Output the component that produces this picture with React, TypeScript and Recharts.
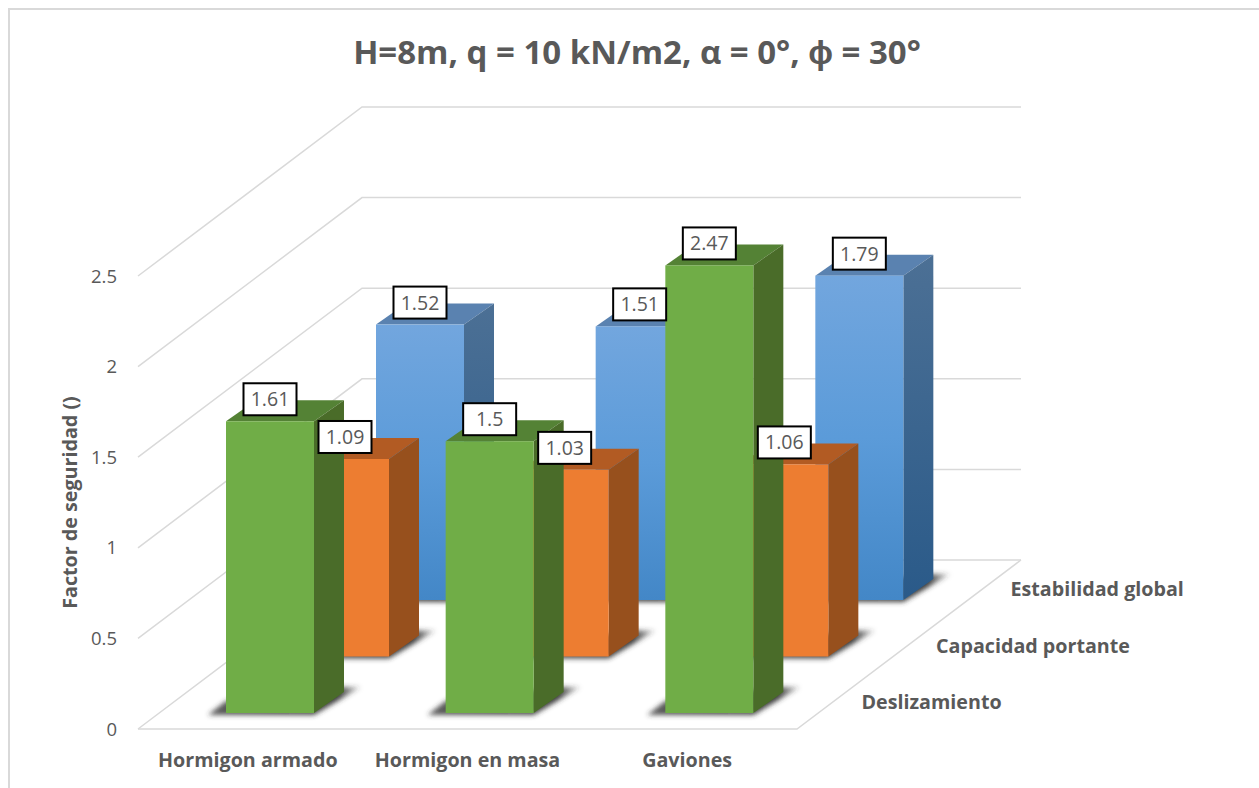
import React from "react";
import { BarChart, Bar, XAxis, YAxis, CartesianGrid, LabelList } from "recharts";

const categories = ["Hormigon armado", "Hormigon en masa", "Gaviones"];
const deslizamiento = [1.61, 1.5, 2.47];
const capacidadPortante = [1.09, 1.03, 1.06];
const estabilidadGlobal = [1.52, 1.51, 1.79];
const yTicks = [0, 0.5, 1, 1.5, 2, 2.5];
const depthLabels = ["Deslizamiento", "Capacidad portante", "Estabilidad global"];

const data = categories.map((name, i) => ({
  name,
  deslizamiento: deslizamiento[i],
  capacidadPortante: capacidadPortante[i],
  estabilidadGlobal: estabilidadGlobal[i],
}));

const W = 1259;
const H = 788;
const BAR = 88;
const DX = 30; // bar depth
const DY = 21;
const FLOOR_DX = 224;
const FLOOR_DY = 169;
const GREY = "#595959";
const GRID = "#d9d9d9";
const FONT = "'Open Sans', sans-serif";

// how far each row sits back on the floor
const rowX = (row: number) => 22 + row * 75;
const rowY = (row: number) => 16 + row * 56.5;

const faces = [
  { front: "#70ad47", top: "#548235", side: "#4a6c29" },
  { front: "#ed7d31", top: "#b25b23", side: "#97501d" },
  { front: "url(#blueFront)", top: "#5a82b0", side: "url(#blueSide)" },
];

function pts(list: number[][]) {
  return list.map((p) => p.join(",")).join(" ");
}

function Bar3D(row: number) {
  return (props: any) => {
    const { x, y, width, height } = props;
    const f = faces[row];
    const l = x + rowX(row);
    const t = y - rowY(row);
    const r = l + width;
    const b = t + height;
    return (
      <g>
        <polygon
          points={pts([[l - 18, b + 2], [r, b + 2], [r + 47, b - 26], [r + 26, b - 26], [l, b - 12]])}
          fill="url(#floorShadow)"
          filter="url(#blur)"
        />
        <polygon points={pts([[l, t], [r, t], [r + DX, t - DY], [l + DX, t - DY]])} fill={f.top} />
        <polygon points={pts([[r, t], [r + DX, t - DY], [r + DX, b - DY], [r, b]])} fill={f.side} />
        <rect x={l} y={t} width={width} height={height} fill={f.front} />
      </g>
    );
  };
}

function ValueBox(row: number) {
  return (props: any) => {
    const { x, y, width, value } = props;
    const cx = x + rowX(row) + width / 2;
    const cy = y - rowY(row) - 22;
    return (
      <g>
        <rect x={cx - 26.5} y={cy - 16} width={53} height={32} fill="#fff" stroke="#000" strokeWidth={2} />
        <text x={cx} y={cy + 7} textAnchor="middle" fontSize={19.5} fill={GREY} fontFamily={FONT}>
          {value}
        </text>
      </g>
    );
  };
}

// walls and floor hang off the gridlines so they follow the value scale
function wallLine(props: any) {
  const { x1, x2, y1, index } = props;
  const back = y1 - FLOOR_DY;
  const isFloor = Math.abs(y1 - 729) < 1;
  return (
    <g key={index}>
      <polyline
        points={pts([[x1, y1], [x1 + FLOOR_DX, back], [x2 + FLOOR_DX, back]])}
        fill="none"
        stroke={GRID}
        strokeWidth={1.5}
      />
      {isFloor && (
        <polyline
          points={pts([[x1, y1], [x2, y1], [x2 + FLOOR_DX, back]])}
          fill="none"
          stroke={GRID}
          strokeWidth={1.5}
        />
      )}
    </g>
  );
}

export default function App() {
  return (
    <div style={{ position: "absolute", left: 0, top: 0, width: W, height: H, overflow: "hidden", background: "#fff" }}>
      <div
        style={{
          position: "absolute",
          left: 8,
          top: 8,
          width: W,
          height: H,
          borderLeft: `2px solid ${GRID}`,
          borderTop: `2px solid ${GRID}`,
        }}
      />
      <div style={{ position: "absolute", left: 0, top: 0 }}>
        <BarChart
          width={W}
          height={H}
          data={data}
          barSize={BAR}
          barGap={-BAR}
          margin={{ top: 276, right: 462, bottom: 19, left: 68 }}
        >
          <defs>
            <linearGradient id="blueFront" x1="0" y1="0" x2="0" y2="1">
              <stop offset="0" stopColor="#72a6de" />
              <stop offset="0.5" stopColor="#5b9bd9" />
              <stop offset="1" stopColor="#4387c7" />
            </linearGradient>
            <linearGradient id="blueSide" x1="0" y1="0" x2="0" y2="1">
              <stop offset="0" stopColor="#4c7095" />
              <stop offset="1" stopColor="#2a5a89" />
            </linearGradient>
            <linearGradient id="floorShadow" x1="0" y1="0" x2="1" y2="0">
              <stop offset="0" stopColor="#333333" stopOpacity={0.8} />
              <stop offset="0.85" stopColor="#333333" stopOpacity={0.95} />
              <stop offset="1" stopColor="#333333" stopOpacity={0.15} />
            </linearGradient>
            <filter id="blur" x="-20%" y="-50%" width="140%" height="200%">
              <feGaussianBlur stdDeviation="2.5" />
            </filter>
          </defs>

          <text x={637} y={64} textAnchor="middle" fontSize={33} fontWeight={700} fill={GREY} fontFamily={FONT}>
            H=8m, q = 10 kN/m2, α = 0°, ϕ = 30°
          </text>

          <CartesianGrid vertical={false} horizontal={wallLine} />
          <XAxis
            dataKey="name"
            height={40}
            axisLine={false}
            tickLine={false}
            interval={0}
            tickMargin={18}
            tick={{ fontSize: 19.7, fontWeight: 700, fill: GREY, fontFamily: FONT }}
          />
          <YAxis
            width={70}
            domain={[0, 2.5]}
            ticks={yTicks}
            axisLine={false}
            tickLine={false}
            tickMargin={15}
            tick={{ fontSize: 18.5, fill: GREY, fontFamily: FONT }}
            label={{
              value: "Factor de seguridad ()",
              angle: -90,
              position: "insideLeft",
              offset: 2,
              style: { textAnchor: "middle", fontSize: 19.7, fontWeight: 700, fill: GREY, fontFamily: FONT },
            }}
          />

          <Bar dataKey="estabilidadGlobal" shape={Bar3D(2)} isAnimationActive={false}>
            <LabelList dataKey="estabilidadGlobal" content={ValueBox(2)} />
          </Bar>
          <Bar dataKey="capacidadPortante" shape={Bar3D(1)} isAnimationActive={false}>
            <LabelList dataKey="capacidadPortante" content={ValueBox(1)} />
          </Bar>
          <Bar dataKey="deslizamiento" shape={Bar3D(0)} isAnimationActive={false}>
            <LabelList dataKey="deslizamiento" content={ValueBox(0)} />
          </Bar>

          {depthLabels.map((label, row) => (
            <text
              key={label}
              x={861.5 + row * 74.5}
              y={709 - row * 56.5}
              fontSize={19.7}
              fontWeight={700}
              fill={GREY}
              fontFamily={FONT}
            >
              {label}
            </text>
          ))}
        </BarChart>
      </div>
    </div>
  );
}
